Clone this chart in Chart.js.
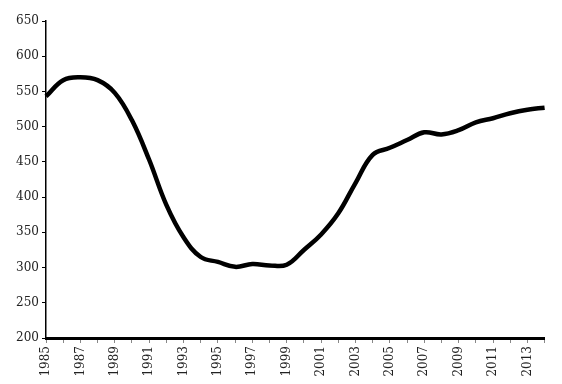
<!DOCTYPE html>
<html>
<head>
<meta charset="utf-8">
<script src="https://cdn.jsdelivr.net/npm/chart.js@4/dist/chart.umd.min.js"></script>
<style>
  html, body { margin: 0; padding: 0; background: #fff; }
  #wrap { width: 562px; height: 384px; }
</style>
</head>
<body>
<div id="wrap"><canvas id="line-chart"></canvas></div>
<script>
var years = ['1985','1986','1987','1988','1989','1990','1991','1992','1993','1994',
             '1995','1996','1997','1998','1999','2000','2001','2002','2003','2004',
             '2005','2006','2007','2008','2009','2010','2011','2012','2013','2014'];
var values = [543, 566, 570, 566, 548, 509, 453, 389, 343, 315,
              308, 301, 305, 303, 304, 325, 347, 377, 420, 460,
              470, 481, 492, 489, 495, 506, 512, 519, 524, 527];
var yTicks = [200, 250, 300, 350, 400, 450, 500, 550, 600, 650];

Chart.defaults.font.family = '"DejaVu Serif", serif';
Chart.defaults.font.size = 12;
Chart.defaults.color = '#222';

new Chart('line-chart', {
	type: 'line',
	data: {
		labels: years,
		datasets: [{
			data: values,
			borderColor: '#000',
			borderWidth: 4.5,
			pointRadius: 0,
			tension: 0.4,
			fill: false
		}]
	},
	options: {
		responsive: true,
		maintainAspectRatio: false,
		animation: false,
		layout: { padding: { top: 21, right: 16, left: 0, bottom: 0 } },
		plugins: { legend: { display: false }, tooltip: { enabled: false } },
		scales: {
			x: {
				offset: false,
				border: { color: '#000', width: 3 },
				grid: { drawOnChartArea: false, color: '#888', tickLength: 5, lineWidth: 1 },
				ticks: {
					autoSkip: false,
					maxRotation: 90,
					minRotation: 90,
					padding: 3,
					callback: function (val, i) { return i % 2 === 0 ? years[i] : ''; }
				},
				afterFit: function (scale) { scale.height = 46; }
			},
			y: {
				min: 200,
				max: 650,
				afterBuildTicks: function (scale) {
					scale.ticks = yTicks.map(function (v) { return { value: v }; });
				},
				border: { color: '#000', width: 1.5 },
				grid: { drawOnChartArea: false, color: '#000', tickLength: 4, lineWidth: 1 },
				ticks: { padding: 3 },
				afterFit: function (scale) { scale.width = 46; }
			}
		}
	}
});
</script>
</body>
</html>
